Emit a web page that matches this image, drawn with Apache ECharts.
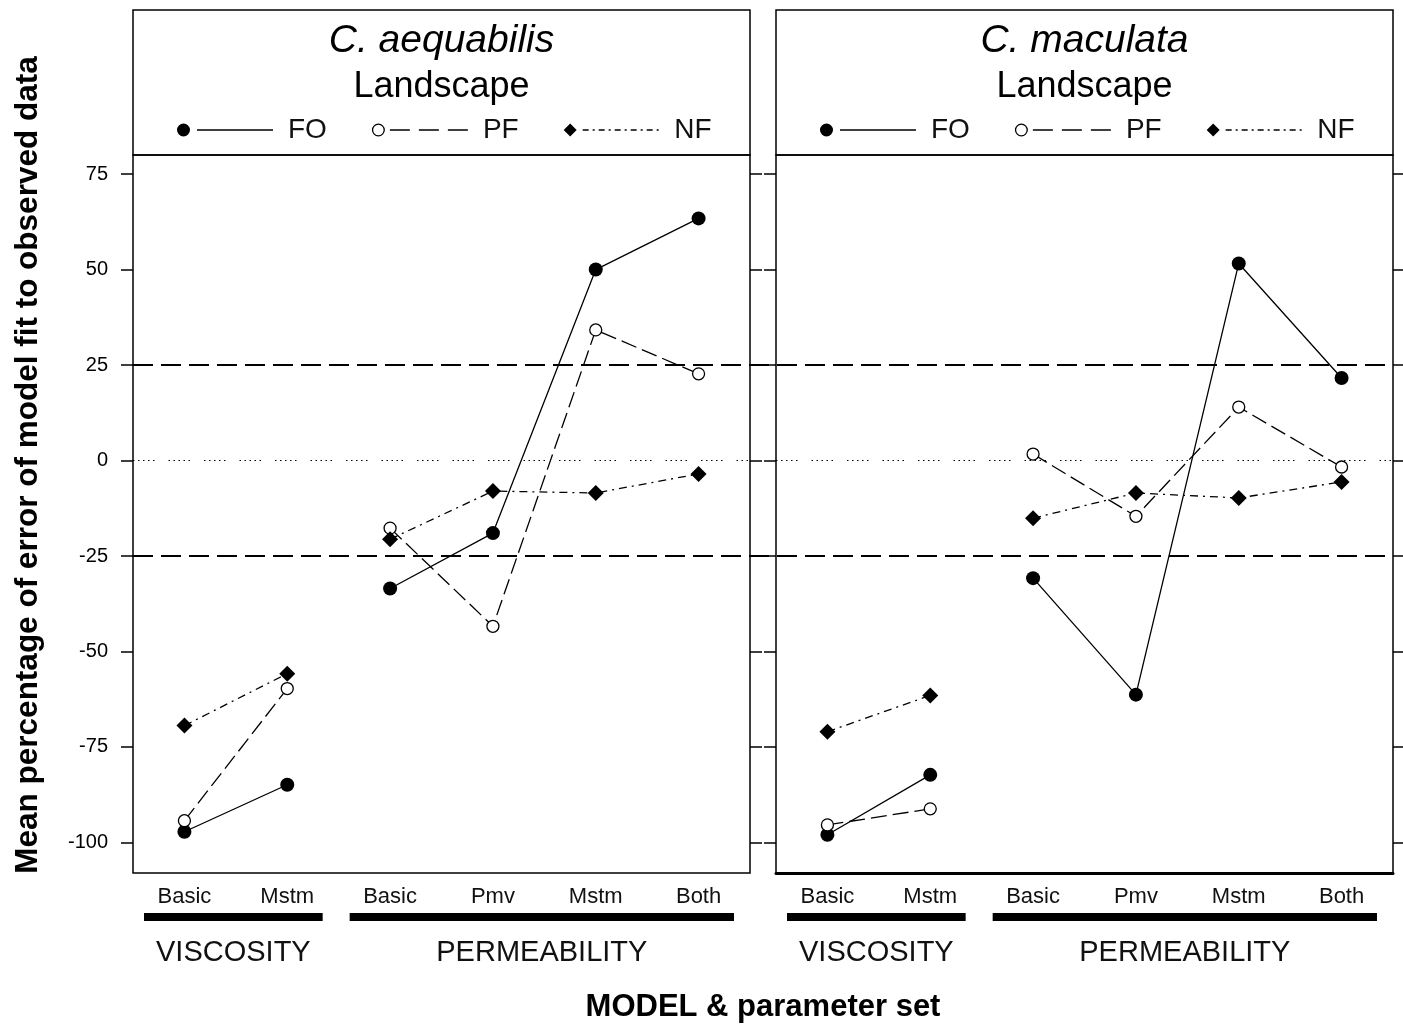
<!DOCTYPE html>
<html>
<head>
<meta charset="utf-8">
<script src="https://cdn.jsdelivr.net/npm/echarts@6/dist/echarts.min.js"></script>
<style>html,body{margin:0;padding:0;background:#fff}#chart{width:1403px;height:1025px}</style>
</head>
<body>
<div id="chart"></div>
<script>
// ---------------- data ----------------
const categories = ['Basic', 'Mstm', 'Basic', 'Pmv', 'Mstm', 'Both'];
const groupNames = ['VISCOSITY', 'PERMEABILITY'];
const groupSpans = [[0, 1], [2, 5]];
const panelTitles = ['C. aequabilis', 'C. maculata'];
const panelSubtitle = 'Landscape';
const seriesNames = ['FO', 'PF', 'NF'];
const aequabilisFO = [-97.2, -84.9, -33.5, -19.0, 50.0, 63.4];
const aequabilisPF = [-94.3, -59.7, -17.7, -43.4, 34.2, 22.7];
const aequabilisNF = [-69.4, -55.8, -20.6, -8.0, -8.5, -3.5];
const maculataFO = [-98.0, -82.3, -30.8, -61.3, 51.6, 21.6];
const maculataPF = [-95.4, -91.2, 1.7, -14.6, 14.0, -1.7];
const maculataNF = [-71.0, -61.5, -15.1, -8.5, -9.8, -5.6];
const yTicks = [-100, -75, -50, -25, 0, 25, 50, 75];
const toleranceLines = [25, -25];
const zeroLine = [0];
const xTitle = 'MODEL & parameter set';
const yTitle = 'Mean percentage of error of model fit to observed data';

// ---------------- layout / style ----------------
const FONT = '"Liberation Sans", Arial, Helvetica, sans-serif';
const Y_MIN = -108, Y_MAX = 80;
const PANEL_LEFT = [133, 776], PANEL_W = 617;
const PLOT_TOP = 155, PLOT_H = 718, HEAD_TOP = 10, HEAD_H = 145;
const panelData = [[aequabilisFO, aequabilisPF, aequabilisNF], [maculataFO, maculataPF, maculataNF]];

const styles = {
  FO: {symbol: 'circle', symbolSize: 14, itemStyle: {color: '#000'}, lineStyle: {color: '#000', width: 1.3, type: 'solid'}},
  PF: {symbol: 'circle', symbolSize: 12, itemStyle: {color: '#fff', borderColor: '#000', borderWidth: 1.3}, lineStyle: {color: '#000', width: 1.3, type: [16, 6]}},
  NF: {symbol: 'diamond', symbolSize: 16, itemStyle: {color: '#000'}, lineStyle: {color: '#000', width: 1.3, type: [8, 5, 2, 5]}}
};

function dashPath(x0, x1, yc, th, pattern) {
  let p = '', x = x0, k = 0;
  while (x < x1) {
    const on = pattern[k % pattern.length], off = pattern[(k + 1) % pattern.length];
    const e = Math.min(x + on, x1);
    p += 'M' + x + ',' + (yc - th / 2) + 'L' + e + ',' + (yc - th / 2) + 'L' + e + ',' + (yc + th / 2) + 'L' + x + ',' + (yc + th / 2) + 'Z';
    x = e + off; k += 2;
  }
  return p;
}
const CIRCLE = 'M0,6.5A6.5,6.5,0,1,1,13,6.5A6.5,6.5,0,1,1,0,6.5Z';
const RING_IN = 'M1.3,6.5A5.2,5.2,0,1,0,11.7,6.5A5.2,5.2,0,1,0,1.3,6.5Z';
const DIAMOND = 'M6.5,0L13,6.5L6.5,13L0,6.5Z';
const legendIcons = {
  FO: 'path://' + CIRCLE + dashPath(20, 96, 6.5, 1.3, [76, 0]),
  PF: 'path://' + CIRCLE + RING_IN + dashPath(18, 96, 6.5, 1.3, [20, 9]),
  NF: 'path://' + DIAMOND + dashPath(19, 96, 6.5, 1.3, [6, 4, 2, 4])
};

const grids = [
  {left: PANEL_LEFT[0], top: PLOT_TOP, width: PANEL_W, height: PLOT_H},
  {left: PANEL_LEFT[1], top: PLOT_TOP, width: PANEL_W, height: PLOT_H},
  {left: PANEL_LEFT[0], top: HEAD_TOP, width: PANEL_W, height: HEAD_H},
  {left: PANEL_LEFT[1], top: HEAD_TOP, width: PANEL_W, height: HEAD_H}
].map(g => Object.assign(g, {show: true, borderColor: '#000', borderWidth: 1.5, backgroundColor: 'transparent', containLabel: false, outerBoundsMode: 'none'}));
grids.push({left: PANEL_LEFT[0], top: PLOT_TOP, width: PANEL_LEFT[1] + PANEL_W - PANEL_LEFT[0], height: PLOT_H, show: false, containLabel: false, outerBoundsMode: 'none'});

const catAxis = (gi, thick) => ({
  type: 'category', gridIndex: gi, data: categories, boundaryGap: true,
  axisLine: {show: thick, onZero: false, lineStyle: {color: '#000', width: 3}},
  axisTick: {show: false},
  axisLabel: {color: '#111', fontFamily: FONT, fontSize: 22, margin: 13, interval: 0},
  splitLine: {show: false}
});
const valAxis = (gi, pos, labels) => ({
  type: 'value', gridIndex: gi, position: pos, min: Y_MIN, max: Y_MAX,
  axisLine: {show: false}, splitLine: {show: false},
  axisTick: {show: true, inside: false, length: 12, customValues: yTicks, lineStyle: {color: '#000', width: 1.5}},
  axisLabel: {show: labels, customValues: yTicks, color: '#000', fontFamily: FONT, fontSize: 20, margin: 25}
});
const hidden = (gi) => ({type: 'value', gridIndex: gi, min: 0, max: 1, show: false});

const xAxis = [
  catAxis(0, false), catAxis(1, true), hidden(2), hidden(3),
  {type: 'value', gridIndex: 4, min: 0, max: 1, axisLine: {show: false}, axisTick: {show: false}, axisLabel: {show: false}, splitLine: {show: false},
   name: xTitle, nameLocation: 'middle', nameGap: 119,
   nameTextStyle: {fontFamily: FONT, fontWeight: 'bold', fontSize: 31, color: '#000'}}
];
const yAxis = [
  valAxis(0, 'left', true), valAxis(0, 'right', false),
  valAxis(1, 'left', false), valAxis(1, 'right', false),
  hidden(2), hidden(3),
  {type: 'value', gridIndex: 4, min: Y_MIN, max: Y_MAX, show: false}
];

const series = [];
panelData.forEach((arrs, p) => {
  const yIdx = p === 0 ? 0 : 2;
  arrs.forEach((vals, s) => {
    const name = seriesNames[s];
    groupSpans.forEach(([a, b]) => {
      const data = [];
      for (let i = a; i <= b; i++) data.push([i, vals[i]]);
      series.push(Object.assign({
        type: 'line', name, xAxisIndex: p, yAxisIndex: yIdx, data, z: 3,
        silent: true, emphasis: {disabled: true}, showAllSymbol: true
      }, styles[name]));
    });
  });
  series.push({
    type: 'line', xAxisIndex: p, yAxisIndex: yIdx, data: [], silent: true,
    markLine: {silent: true, symbol: ['none', 'none'], label: {show: false},
      lineStyle: {color: '#000', width: 1.2, type: [1.5, 3.5, 1.5, 3.5, 1.5, 3.5, 1.5, 3.5, 1.5, 14]},
      data: zeroLine.map(v => ({yAxis: v}))}
  });
  series.push({
    type: 'custom', xAxisIndex: p, yAxisIndex: yIdx, clip: false, silent: true,
    data: groupSpans.map(s => s.slice()),
    renderItem: (params, api) => {
      const a = api.value(0), b = api.value(1);
      const bw = api.size([1, 0])[0];
      const pa = api.coord([a, Y_MIN]), pb = api.coord([b, Y_MIN]);
      const x0 = pa[0] - bw / 2 + 11, x1 = pb[0] + bw / 2 - 16;
      const yb = pa[1];
      return {type: 'group', children: [
        {type: 'rect', shape: {x: x0, y: yb + 40, width: x1 - x0, height: 8}, style: {fill: '#000'}},
        {type: 'text', x: (x0 + x1) / 2, y: yb + 80, style: {text: groupNames[params.dataIndex], fill: '#111', font: '29px ' + FONT, align: 'center', verticalAlign: 'middle', textAlign: 'center', textVerticalAlign: 'middle'}}
      ]};
    }
  });
});
series.push({
  type: 'line', xAxisIndex: 4, yAxisIndex: 6, data: [], silent: true,
  markLine: {silent: true, symbol: ['none', 'none'], label: {show: false},
    lineStyle: {color: '#000', width: 1.8, type: [20, 8]},
    data: toleranceLines.map(v => ({yAxis: v}))}
});

const option = {
  animation: false,
  backgroundColor: '#fff',
  title: [0, 1].map(p => ({
    text: panelTitles[p], subtext: panelSubtitle,
    left: PANEL_LEFT[p] + PANEL_W / 2, textAlign: 'center', top: 22, padding: 0, itemGap: 8,
    textStyle: {fontFamily: FONT, fontStyle: 'italic', fontWeight: 'normal', fontSize: 39, color: '#000'},
    subtextStyle: {fontFamily: FONT, fontSize: 36, color: '#000'}
  })),
  legend: [0, 1].map(p => ({
    left: PANEL_LEFT[p] + 44, top: 116, padding: 0, orient: 'horizontal',
    itemWidth: 96, itemHeight: 13, itemGap: 45, selectedMode: false,
    textStyle: {fontFamily: FONT, fontSize: 28, color: '#111', padding: [10, 0, 0, 10]},
    data: seriesNames.map(n => ({name: n, icon: legendIcons[n], itemStyle: {color: '#000', borderWidth: 0}}))
  })),
  grid: grids,
  xAxis, yAxis, series,
  graphic: [{
    type: 'text', x: 28, y: 465, rotation: Math.PI / 2, silent: true,
    style: {text: yTitle, fill: '#000', font: 'bold 31.5px ' + FONT, align: 'center', verticalAlign: 'middle', textAlign: 'center', textVerticalAlign: 'middle'}
  }]
};
const chart = echarts.init(document.getElementById('chart'), null, {renderer: 'canvas'});
chart.setOption(option);
</script>
</body>
</html>
